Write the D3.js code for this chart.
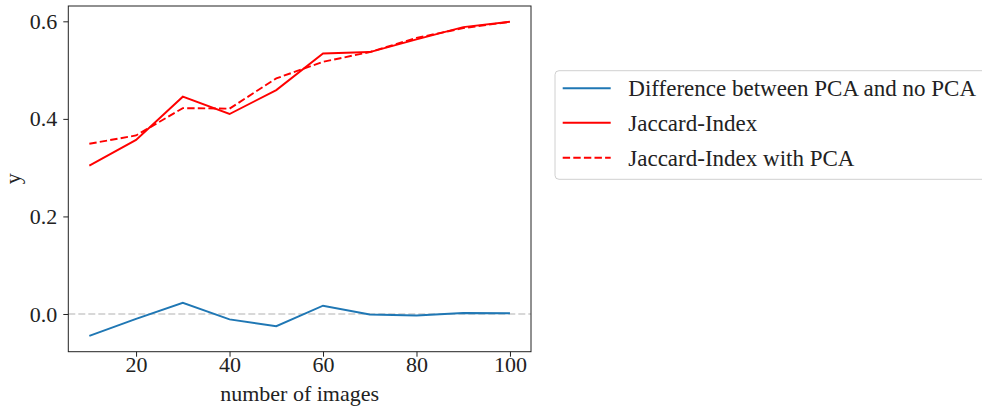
<!DOCTYPE html>
<html><head><meta charset="utf-8">
<script src="https://cdn.jsdelivr.net/npm/d3@7"></script>
<style>body{margin:0;background:#fff}svg{display:block}</style>
</head><body>
<svg id="c" width="982" height="412"></svg>
<script>
const images = [10,20,30,40,50,60,70,80,90,100];
const diffPCA = [-0.045,-0.010,0.023,-0.011,-0.025,0.017,-0.001,-0.003,0.002,0.0015];
const jaccard = [0.304,0.357,0.4455,0.410,0.459,0.534,0.537,0.563,0.588,0.599];
const jaccardPCA = [0.349,0.366,0.422,0.421,0.483,0.517,0.537,0.566,0.586,0.599];
const xTicks = [20,40,60,80,100];
const yTicks = [0.0,0.2,0.4,0.6];
const seriesNames = ["Difference between PCA and no PCA","Jaccard-Index","Jaccard-Index with PCA"];

const font = "'Liberation Serif', 'DejaVu Serif', serif";
const svg = d3.select("#c");
const L=68.3, R=531, T=6, B=351.7;
const x = d3.scaleLinear().domain([5.5,104.5]).range([L,R]);
const y = d3.scaleLinear().domain([-0.0773,0.6314]).range([B,T]);

// zero reference line
svg.append("line").attr("x1",L).attr("x2",R).attr("y1",y(0)).attr("y2",y(0))
  .attr("stroke","#cccccc").attr("stroke-width",1.5).attr("stroke-dasharray","7,3");

const line = d3.line().x((d,i)=>x(images[i])).y(d=>y(d));
const styles = [
  {data:diffPCA,color:"#1f77b4",dash:null},
  {data:jaccard,color:"#ff0000",dash:null},
  {data:jaccardPCA,color:"#ff0000",dash:"7.4,3.2"}
];
styles.forEach(s=>{
  svg.append("path").attr("d",line(s.data)).attr("fill","none")
    .attr("stroke",s.color).attr("stroke-width",1.9)
    .attr("stroke-dasharray",s.dash);
});

// frame
svg.append("rect").attr("x",L).attr("y",T).attr("width",R-L).attr("height",B-T)
  .attr("fill","none").attr("stroke","#222").attr("stroke-width",1);

const xa = svg.append("g").attr("transform",`translate(0,${B})`)
  .call(d3.axisBottom(x).tickValues(xTicks).tickSize(5).tickPadding(6).tickFormat(d3.format("d")));
const ya = svg.append("g").attr("transform",`translate(${L},0)`)
  .call(d3.axisLeft(y).tickValues(yTicks).tickSize(5).tickPadding(6).tickFormat(d3.format(".1f")));
[xa,ya].forEach(a=>{
  a.select(".domain").remove();
  a.selectAll(".tick line").attr("stroke","#222");
  a.selectAll("text").attr("font-family",font).attr("font-size",22).attr("fill","#222");
});
xa.selectAll("text").attr("y",20.5).attr("dy",0);

svg.append("text").attr("x",(L+R)/2).attr("y",401).attr("text-anchor","middle")
  .attr("font-family",font).attr("font-size",22).attr("fill","#222").text("number of images");
svg.append("text").attr("transform",`translate(20,${(T+B)/2}) rotate(-90)`).attr("text-anchor","middle")
  .attr("font-family",font).attr("font-size",22).attr("fill","#222").text("y");

// legend
const lg = svg.append("g");
lg.append("rect").attr("x",555).attr("y",70.7).attr("width",440).attr("height",108.6)
  .attr("rx",4).attr("fill","#fff").attr("stroke","#d0d0d0").attr("stroke-width",1);
const rowsY=[88.3,122.7,157.7];
styles.forEach((s,i)=>{
  lg.append("line").attr("x1",562.7).attr("x2",610.7).attr("y1",rowsY[i]).attr("y2",rowsY[i])
    .attr("stroke",s.color).attr("stroke-width",1.9).attr("stroke-dasharray",s.dash);
  lg.append("text").attr("x",628.3).attr("y",rowsY[i]).attr("dy","0.35em")
    .attr("font-family",font).attr("font-size",23).attr("fill","#222").text(seriesNames[i]);
});
</script>
</body></html>
